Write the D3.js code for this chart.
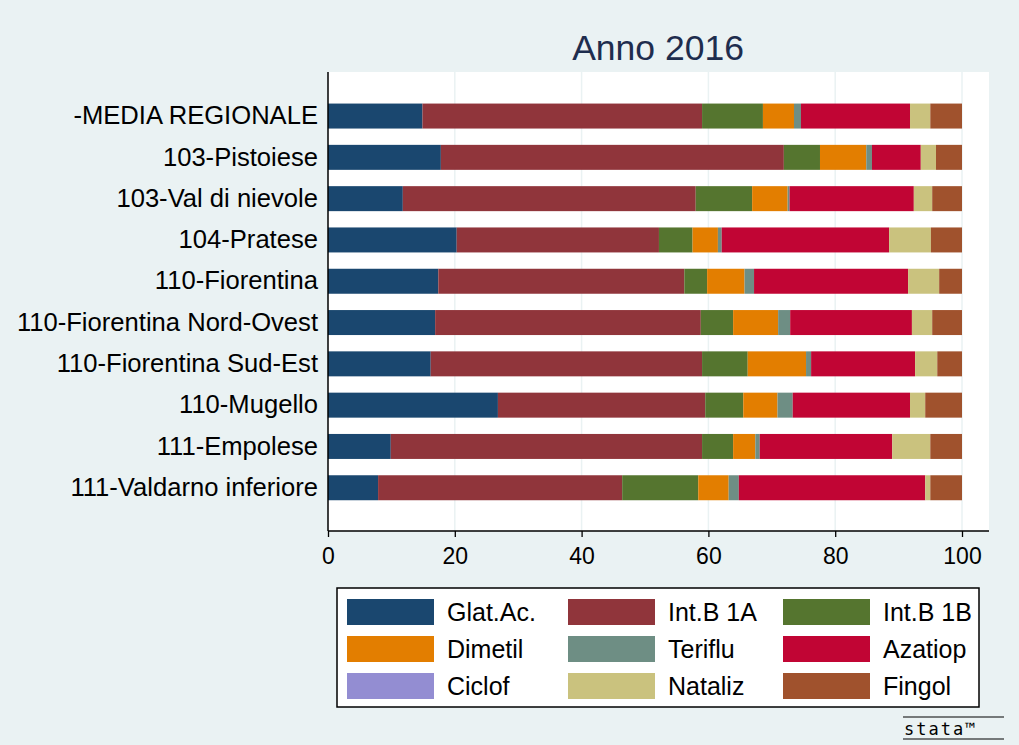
<!DOCTYPE html>
<html><head><meta charset="utf-8">
<script src="https://cdn.jsdelivr.net/npm/d3@7"></script>
<style>body{margin:0;background:#eaf2f3;} svg{display:block;}</style>
</head><body>
<script>
const categories = ["-MEDIA REGIONALE","103-Pistoiese","103-Val di nievole","104-Pratese","110-Fiorentina","110-Fiorentina Nord-Ovest","110-Fiorentina Sud-Est","110-Mugello","111-Empolese","111-Valdarno inferiore"];
const seriesNames = ["Glat.Ac.","Int.B 1A","Int.B 1B","Dimetil","Teriflu","Azatiop","Ciclof","Nataliz","Fingol"];
const seriesColors = ["#1a476f","#90353b","#55752f","#e37e00","#6e8e84","#c10534","#938dd2","#cac27e","#a0522d"];
const glat    = [14.9,17.8,11.8,20.3,17.4,16.9,16.2,26.8, 9.9, 7.9];
const intb1a  = [44.1,54.1,46.2,31.9,38.8,41.9,42.8,32.7,49.1,38.5];
const intb1b  = [ 9.6, 5.7, 8.9, 5.3, 3.6, 5.1, 7.2, 6.0, 4.9,12.0];
const dimetil = [ 4.9, 7.3, 5.6, 4.0, 5.9, 7.1, 9.2, 5.4, 3.5, 4.8];
const teriflu = [ 1.1, 0.9, 0.3, 0.6, 1.5, 1.9, 0.8, 2.4, 0.7, 1.6];
const azatiop = [17.2, 7.7,19.6,26.4,24.3,19.2,16.4,18.5,20.9,29.4];
const ciclof  = [ 0.0, 0.0, 0.0, 0.0, 0.0, 0.0, 0.0, 0.0, 0.0, 0.0];
const nataliz = [ 3.2, 2.4, 2.9, 6.6, 4.9, 3.2, 3.5, 2.4, 6.0, 0.8];
const fingol  = [ 5.0, 4.1, 4.7, 4.9, 3.6, 4.7, 3.9, 5.8, 5.0, 5.0];
const xTicks = [0,20,40,60,80,100];
const title = "Anno 2016";

const W = 1019, H = 745;
const FONT = "Liberation Sans, Arial, sans-serif";
const seriesValues = [glat,intb1a,intb1b,dimetil,teriflu,azatiop,ciclof,nataliz,fingol];
const table = categories.map((c,i)=>{const o={cat:c}; seriesNames.forEach((s,j)=>o[s]=seriesValues[j][i]); return o;});
const stack = d3.stack().keys(seriesNames)(table);

const svg = d3.select("body").append("svg").attr("width",W).attr("height",H);
svg.append("rect").attr("width",W).attr("height",H).attr("fill","#eaf2f3");

const plot = {l:328, r:989, t:72, b:531};
svg.append("rect").attr("x",plot.l).attr("y",plot.t).attr("width",plot.r-plot.l).attr("height",plot.b-plot.t).attr("fill","#ffffff");

const x = d3.scaleLinear().domain([0,100]).range([328,962]);
const y = d3.scaleBand().domain(categories).range([95.4,508.4]).paddingInner(0.395).paddingOuter(0.1975);

// gridlines
svg.append("g").selectAll("line").data(xTicks.filter(d=>d>0)).join("line")
  .attr("x1",d=>x(d)).attr("x2",d=>x(d)).attr("y1",plot.t).attr("y2",plot.b)
  .attr("stroke","#eaf2f3").attr("stroke-width",1.5);

// bars
svg.append("g").selectAll("g").data(stack).join("g")
  .attr("fill",(d,i)=>seriesColors[i])
  .selectAll("rect").data(d=>d).join("rect")
  .attr("x",d=>x(d[0])).attr("width",d=>Math.max(0,x(d[1])-x(d[0])))
  .attr("y",d=>y(d.data.cat)).attr("height",y.bandwidth());

// axes
const xAxis = svg.append("g").attr("transform",`translate(0,${plot.b})`)
  .call(d3.axisBottom(x).tickValues(xTicks).tickSize(6).tickPadding(11).tickFormat(d3.format("d")));
xAxis.select(".domain").remove();
xAxis.selectAll(".tick line").attr("stroke","#000").attr("stroke-width",1.3);
xAxis.selectAll("text").attr("font-family",FONT).attr("font-size",23).attr("fill","#000");
svg.append("line").attr("x1",plot.l).attr("x2",plot.r).attr("y1",plot.b).attr("y2",plot.b).attr("stroke","#000").attr("stroke-width",1.5);

const yAxis = svg.append("g").attr("transform",`translate(${plot.l},0)`)
  .call(d3.axisLeft(y).tickSize(0).tickPadding(10));
yAxis.select(".domain").remove();
yAxis.selectAll("text").attr("font-family",FONT).attr("font-size",25.6).attr("fill","#000");
svg.append("line").attr("x1",plot.l).attr("x2",plot.l).attr("y1",plot.t).attr("y2",plot.b).attr("stroke","#000").attr("stroke-width",1.5);

// title
svg.append("text").attr("x",658).attr("y",60).attr("text-anchor","middle")
  .attr("font-family",FONT).attr("font-size",35.5).attr("fill","#1e2d4e").text(title);

// legend
const lg = svg.append("g");
lg.append("rect").attr("x",337).attr("y",588).attr("width",642).attr("height",119).attr("fill","#ffffff").attr("stroke","#000").attr("stroke-width",1.5);
const colX = [347,568,783];
const rowY = [599,636,673];
seriesNames.forEach((s,i)=>{
  const c = i%3, r = Math.floor(i/3);
  lg.append("rect").attr("x",colX[c]).attr("y",rowY[r]).attr("width",87).attr("height",26).attr("fill",seriesColors[i]);
  lg.append("text").attr("x",colX[c]+100).attr("y",rowY[r]+13).attr("dy","0.36em")
    .attr("font-family",FONT).attr("font-size",25).attr("fill","#000").text(s);
});

// stata logo
const sl = svg.append("g");
sl.append("line").attr("x1",903).attr("x2",1004).attr("y1",717).attr("y2",717).attr("stroke","#000").attr("stroke-width",1);
sl.append("line").attr("x1",903).attr("x2",1004).attr("y1",739).attr("y2",739).attr("stroke","#000").attr("stroke-width",1);
sl.append("text").attr("x",904).attr("y",735).attr("font-family","DejaVu Sans Mono, monospace").attr("font-size",17).attr("letter-spacing",2).attr("fill","#000").text("stata™");
</script>
</body></html>
